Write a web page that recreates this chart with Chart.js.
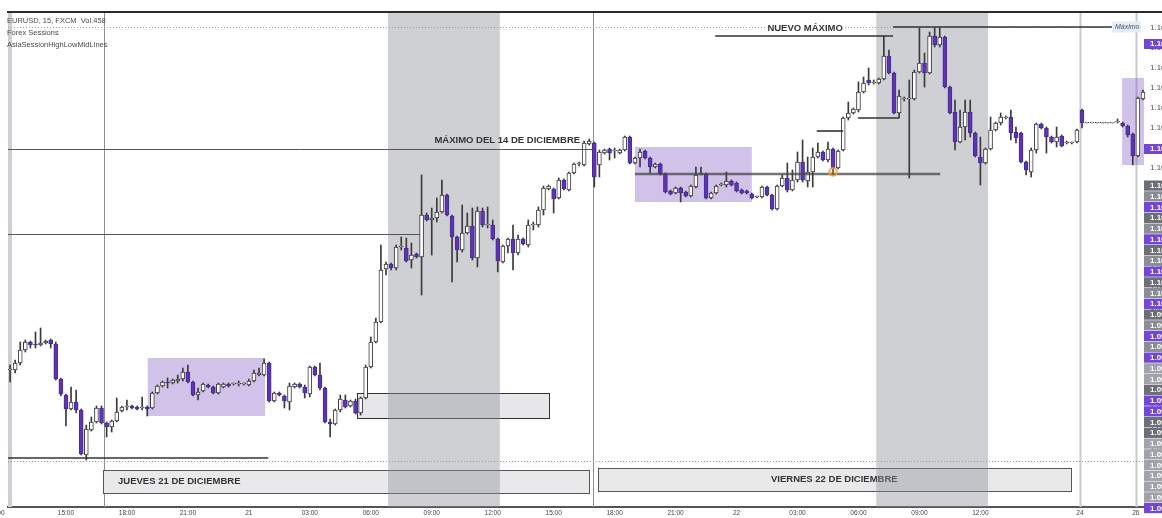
<!DOCTYPE html>
<html>
<head>
<meta charset="utf-8">
<script src="https://cdn.jsdelivr.net/npm/chart.js@4.4.0/dist/chart.umd.min.js"></script>
<style>
  html, body { margin: 0; padding: 0; background: #fff; }
  #wrap { width: 1162px; height: 518px; position: relative; }
</style>
</head>
<body>
<div id="wrap"><canvas id="chart"></canvas></div>
<script>
// EURUSD 15 min (FXCM), velas; la vela n esta en la barra n (1..224)
const opens = [
  1.09716,1.09716,1.09730,1.09756,1.09772,1.09768,1.09766,1.09770,1.09776,1.09768,
  1.09698,1.09666,1.09638,1.09652,1.09636,1.09546,1.09596,1.09612,1.09640,1.09610,
  1.09602,1.09614,1.09634,1.09642,1.09644,1.09642,1.09640,1.09642,1.09640,1.09670,
  1.09684,1.09692,1.09690,1.09694,1.09698,1.09712,1.09692,1.09666,1.09674,1.09686,
  1.09682,1.09670,1.09682,1.09688,1.09688,1.09688,1.09688,1.09686,1.09694,1.09706,
  1.09706,1.09730,1.09654,1.09670,1.09664,1.09652,1.09682,1.09688,1.09682,1.09668,
  1.09722,1.09706,1.09680,1.09612,1.09608,1.09636,1.09656,1.09644,1.09654,1.09630,
  1.09660,1.09722,1.09772,1.09812,1.09918,1.09928,1.09920,1.09962,1.09960,1.09936,
  1.09948,1.09942,1.10026,1.10016,1.10020,1.10032,1.10066,1.10024,1.09982,1.09956,
  1.09990,1.10004,1.09940,1.10034,1.10006,1.10006,1.09978,1.09932,1.09964,1.09978,
  1.09950,1.09978,1.09966,1.10006,1.10006,1.10036,1.10078,1.10078,1.10060,1.10096,
  1.10076,1.10110,1.10128,1.10126,1.10168,1.10170,1.10126,1.10150,1.10158,1.10154,
  1.10150,1.10156,1.10182,1.10130,1.10140,1.10154,1.10140,1.10122,1.10128,1.10108,
  1.10074,1.10070,1.10080,1.10072,1.10064,1.10082,1.10108,1.10108,1.10060,1.10070,
  1.10086,1.10086,1.10094,1.10090,1.10076,1.10074,1.10068,1.10062,1.10062,1.10082,
  1.10066,1.10038,1.10084,1.10100,1.10076,1.10096,1.10132,1.10094,1.10112,1.10142,
  1.10152,1.10136,1.10158,1.10120,1.10156,1.10220,1.10230,1.10236,1.10272,1.10296,
  1.10290,1.10290,1.10298,1.10344,1.10310,1.10230,1.10258,1.10258,1.10258,1.10312,
  1.10330,1.10310,1.10384,1.10366,1.10382,1.10282,1.10232,1.10172,1.10202,1.10232,
  1.10190,1.10142,1.10130,1.10158,1.10196,1.10210,1.10220,1.10222,1.10192,1.10190,
  1.10132,1.10112,1.10156,1.10208,1.10200,1.10182,1.10172,1.10184,1.10170,1.10170,
  1.10172,1.10236,1.10210,1.10210,1.10210,1.10210,1.10210,1.10210,1.10212,1.10210,
  1.10204,1.10188,1.10144,1.10258
];
const highs = [
  1.09726,1.09736,1.09772,1.09776,1.09774,1.09792,1.09800,1.09776,1.09778,1.09772,
  1.09700,1.09668,1.09682,1.09676,1.09638,1.09606,1.09622,1.09644,1.09644,1.09612,
  1.09616,1.09660,1.09644,1.09656,1.09646,1.09644,1.09662,1.09644,1.09672,1.09686,
  1.09694,1.09700,1.09698,1.09706,1.09720,1.09726,1.09694,1.09680,1.09690,1.09688,
  1.09684,1.09690,1.09690,1.09690,1.09690,1.09694,1.09690,1.09698,1.09716,1.09720,
  1.09738,1.09732,1.09672,1.09672,1.09666,1.09690,1.09690,1.09690,1.09686,1.09724,
  1.09724,1.09730,1.09682,1.09618,1.09638,1.09666,1.09666,1.09656,1.09658,1.09662,
  1.09726,1.09782,1.09820,1.09966,1.09932,1.09930,1.09966,1.09982,1.09980,1.09970,
  1.09950,1.10106,1.10030,1.10040,1.10060,1.10096,1.10068,1.10026,1.09984,1.10046,
  1.10030,1.10040,1.10042,1.10040,1.10042,1.10016,1.09980,1.09966,1.09980,1.10006,
  1.09986,1.09980,1.10016,1.10012,1.10042,1.10084,1.10086,1.10080,1.10100,1.10098,
  1.10112,1.10130,1.10132,1.10174,1.10178,1.10172,1.10156,1.10158,1.10160,1.10160,
  1.10158,1.10184,1.10184,1.10142,1.10158,1.10156,1.10142,1.10130,1.10130,1.10110,
  1.10076,1.10082,1.10082,1.10074,1.10086,1.10122,1.10122,1.10110,1.10072,1.10086,
  1.10090,1.10112,1.10096,1.10092,1.10078,1.10076,1.10070,1.10064,1.10084,1.10084,
  1.10068,1.10086,1.10106,1.10130,1.10116,1.10152,1.10176,1.10142,1.10160,1.10170,
  1.10154,1.10172,1.10160,1.10156,1.10222,1.10252,1.10240,1.10292,1.10302,1.10320,
  1.10296,1.10300,1.10384,1.10356,1.10312,1.10276,1.10262,1.10296,1.10316,1.10400,
  1.10350,1.10392,1.10400,1.10400,1.10384,1.10284,1.10256,1.10236,1.10256,1.10256,
  1.10192,1.10182,1.10160,1.10222,1.10212,1.10230,1.10224,1.10236,1.10202,1.10192,
  1.10134,1.10160,1.10210,1.10210,1.10202,1.10184,1.10202,1.10186,1.10174,1.10172,
  1.10198,1.10238,1.10210,1.10210,1.10210,1.10210,1.10210,1.10210,1.10218,1.10212,
  1.10206,1.10190,1.10262,1.10276
];
const lows = [
  1.09692,1.09710,1.09726,1.09752,1.09760,1.09760,1.09764,1.09768,1.09760,1.09696,
  1.09664,1.09604,1.09636,1.09630,1.09546,1.09536,1.09594,1.09610,1.09608,1.09582,
  1.09592,1.09612,1.09632,1.09636,1.09638,1.09636,1.09636,1.09624,1.09638,1.09668,
  1.09682,1.09680,1.09688,1.09690,1.09694,1.09690,1.09664,1.09656,1.09672,1.09680,
  1.09668,1.09668,1.09680,1.09682,1.09686,1.09684,1.09686,1.09684,1.09692,1.09704,
  1.09704,1.09652,1.09652,1.09664,1.09640,1.09636,1.09680,1.09680,1.09660,1.09662,
  1.09704,1.09676,1.09610,1.09582,1.09606,1.09632,1.09640,1.09642,1.09628,1.09626,
  1.09658,1.09720,1.09770,1.09810,1.09906,1.09916,1.09916,1.09956,1.09932,1.09920,
  1.09940,1.09866,1.10014,1.09946,1.10012,1.10030,1.10024,1.09892,1.09932,1.09952,
  1.09988,1.09936,1.09922,1.10002,1.10000,1.09976,1.09912,1.09930,1.09950,1.09916,
  1.09946,1.09966,1.09962,1.09996,1.10002,1.10026,1.10076,1.10030,1.10058,1.10076,
  1.10074,1.10108,1.10124,1.10124,1.10166,1.10082,1.10102,1.10148,1.10136,1.10140,
  1.10148,1.10154,1.10128,1.10128,1.10122,1.10138,1.10110,1.10120,1.10106,1.10070,
  1.10066,1.10068,1.10052,1.10062,1.10062,1.10080,1.10106,1.10058,1.10058,1.10068,
  1.10084,1.10082,1.10084,1.10072,1.10068,1.10068,1.10058,1.10060,1.10060,1.10064,
  1.10036,1.10036,1.10082,1.10072,1.10074,1.10092,1.10092,1.10082,1.10082,1.10140,
  1.10134,1.10132,1.10106,1.10118,1.10154,1.10216,1.10228,1.10232,1.10270,1.10286,
  1.10288,1.10288,1.10296,1.10308,1.10228,1.10220,1.10254,1.10100,1.10256,1.10310,
  1.10282,1.10308,1.10362,1.10362,1.10280,1.10228,1.10156,1.10170,1.10176,1.10182,
  1.10142,1.10086,1.10128,1.10156,1.10194,1.10206,1.10218,1.10176,1.10170,1.10130,
  1.10106,1.10102,1.10150,1.10198,1.10150,1.10170,1.10162,1.10162,1.10168,1.10168,
  1.10170,1.10200,1.10210,1.10210,1.10210,1.10210,1.10210,1.10210,1.10210,1.10202,
  1.10182,1.10126,1.10142,1.10256
];
const closes = [
  1.09718,1.09730,1.09756,1.09772,1.09766,1.09766,1.09770,1.09774,1.09768,1.09698,
  1.09668,1.09638,1.09652,1.09636,1.09548,1.09598,1.09612,1.09640,1.09610,1.09602,
  1.09614,1.09632,1.09642,1.09644,1.09640,1.09638,1.09640,1.09638,1.09670,1.09684,
  1.09692,1.09690,1.09696,1.09698,1.09712,1.09692,1.09666,1.09672,1.09688,1.09682,
  1.09670,1.09688,1.09688,1.09684,1.09688,1.09688,1.09688,1.09694,1.09710,1.09710,
  1.09730,1.09654,1.09670,1.09666,1.09654,1.09684,1.09688,1.09682,1.09670,1.09722,
  1.09706,1.09680,1.09612,1.09608,1.09636,1.09658,1.09642,1.09654,1.09630,1.09660,
  1.09722,1.09772,1.09812,1.09916,1.09928,1.09920,1.09962,1.09962,1.09934,1.09946,
  1.09942,1.10026,1.10016,1.10020,1.10032,1.10066,1.10026,1.09982,1.09956,1.09990,
  1.10004,1.09940,1.10034,1.10006,1.10006,1.09978,1.09934,1.09964,1.09978,1.09950,
  1.09978,1.09968,1.10006,1.10006,1.10036,1.10080,1.10084,1.10058,1.10096,1.10078,
  1.10110,1.10128,1.10128,1.10170,1.10174,1.10102,1.10152,1.10156,1.10150,1.10154,
  1.10156,1.10182,1.10130,1.10140,1.10152,1.10140,1.10122,1.10128,1.10108,1.10072,
  1.10068,1.10080,1.10070,1.10064,1.10084,1.10106,1.10108,1.10060,1.10070,1.10084,
  1.10086,1.10094,1.10086,1.10074,1.10070,1.10070,1.10060,1.10062,1.10082,1.10066,
  1.10038,1.10084,1.10100,1.10076,1.10096,1.10132,1.10096,1.10112,1.10142,1.10152,
  1.10136,1.10158,1.10120,1.10154,1.10220,1.10230,1.10238,1.10272,1.10290,1.10290,
  1.10290,1.10298,1.10344,1.10310,1.10230,1.10264,1.10258,1.10258,1.10312,1.10330,
  1.10310,1.10384,1.10366,1.10382,1.10282,1.10230,1.10172,1.10202,1.10232,1.10190,
  1.10144,1.10130,1.10158,1.10196,1.10210,1.10222,1.10220,1.10190,1.10180,1.10132,
  1.10116,1.10156,1.10208,1.10200,1.10182,1.10172,1.10182,1.10164,1.10170,1.10170,
  1.10196,1.10210,1.10210,1.10210,1.10210,1.10210,1.10210,1.10210,1.10212,1.10204,
  1.10186,1.10144,1.10260,1.10272
];

// eje de tiempo: posicion en barras y texto
const tickPos = [12, 24, 36, 48, 60, 72, 84, 96, 108, 120, 132, 144, 156, 168, 180, 192, 211.6, 222.6];
const tickText = ['15:00','18:00','21:00','21','03:00','06:00','09:00','12:00','15:00',
                  '18:00','21:00','22','03:00','06:00','09:00','12:00','24','26'];
const firstTick = [-1.7, '12:00'];   // queda cortada por el borde izquierdo

// zonas y niveles dibujados encima (barra, precio)
const separators = [19.5, 115.75, 211.6, 222.6];
const killzones = [[75.4, 97.4], [171.5, 193.5]];
const asiaBoxes = [[28.1, 51.2, 1.09624, 1.09740], [124.0, 147.0, 1.10052, 1.10162], [219.9, 224.2, 1.10126, 1.10300]];
const grayBox = [69.3, 107.1, 1.09620, 1.09670];
const dayBoxes = [[19.3, 115.0, 1.09470, 1.09516], [116.7, 209.8, 1.09474, 1.09520]];
const dayNames = ['JUEVES 21 DE DICIEMBRE', 'VIERNES 22 DE DICIEMBRE'];
const levels = [
  [1.10158, 0.59, 115.75], [1.09988, 0.59, 81.7], [1.09540, 0.59, 51.8],
  [1.10384, 139.8, 174.8], [1.10402, 174.8, 217.9], [1.10194, 159.8, 165.0], [1.10220, 167.9, 176.0]
];
const asiaLow = [1.10108, 124.0, 184.1];
const dotted = [1.10402, 1.09534];
const maxLabel = 'MÁXIMO DEL 14 DE DICIEMBRE';
const newMaxLabel = 'NUEVO MÁXIMO';
const touch = [163, 1.10112];

// etiquetas apiladas del eje de precios
const axisTags = [[1.10368, '1.1037'], [1.10158, '1.1016']];
const stackKinds = ['d','m','p','d','m','p','d','m','p','d','m','p','d','m','p','m',
                    'p','l','l','d','p','p','d','d','l','l','l','l','l','l','p'];
const stackTexts = ['1.1011','1.1009','1.1008','1.1006','1.1005','1.1004','1.1003','1.1002',
                    '1.1001','1.1001','1.1000','1.1000','1.0998','1.0996','1.0994','1.0992',
                    '1.0990','1.0987','1.0985','1.0982','1.0979','1.0976','1.0973','1.0970',
                    '1.0967','1.0964','1.0961','1.0958','1.0955','1.0952','1.0949'];

const PURPLE = '#5e35b1';
const FONT = '"Liberation Sans", Arial, sans-serif';
Chart.defaults.font.family = FONT;

const bodies = [];
const wicks = [];
for (let k = 0; k < opens.length; k++) {
  bodies.push({ x: k + 1, y: [opens[k], closes[k]] });
  wicks.push({ x: k + 1, y: [lows[k], highs[k]] });
}
const isUp = k => closes[k] >= opens[k];

const overlay = {
  id: 'overlay',
  beforeDatasetsDraw(chart) {
    const { ctx, chartArea: a, scales: { x, y } } = chart;
    const X = v => x.getPixelForValue(v);
    const Y = v => y.getPixelForValue(v);
    ctx.save();
    // franja izquierda
    ctx.fillStyle = '#cfd0d5';
    ctx.fillRect(a.left, a.top, 4, a.bottom - a.top);
    // separadores de sesion
    separators.forEach((s, n) => {
      ctx.strokeStyle = n < 2 ? '#8d8f96' : '#c9cacf';
      ctx.lineWidth = n < 2 ? 1 : 2;
      ctx.beginPath();
      ctx.moveTo(Math.round(X(s)) + 0.5, a.top);
      ctx.lineTo(Math.round(X(s)) + 0.5, a.bottom);
      ctx.stroke();
    });
    // caja gris
    ctx.fillStyle = '#e7e7ea';
    ctx.strokeStyle = '#333';
    ctx.lineWidth = 1;
    const gx = X(grayBox[0]), gy = Y(grayBox[3]);
    ctx.fillRect(gx, gy, X(grayBox[1]) - gx, Y(grayBox[2]) - gy);
    ctx.strokeRect(Math.round(gx) + 0.5, Math.round(gy) + 0.5, Math.round(X(grayBox[1]) - gx), Math.round(Y(grayBox[2]) - gy));
    // cajas de los dias
    dayBoxes.forEach((b, n) => {
      const bx = X(b[0]), by = Y(b[3]), bw = X(b[1]) - bx, bh = Y(b[2]) - by;
      ctx.fillStyle = '#e9e9ec';
      ctx.fillRect(bx, by, bw, bh);
      ctx.strokeStyle = '#555';
      ctx.strokeRect(Math.round(bx) + 0.5, Math.round(by) + 0.5, Math.round(bw), Math.round(bh));
      ctx.fillStyle = '#333';
      ctx.font = 'bold 9.5px ' + FONT;
      ctx.textBaseline = 'middle';
      if (n === 0) {
        ctx.textAlign = 'left';
        ctx.fillText(dayNames[n], bx + 15, by + bh / 2);
      } else {
        ctx.textAlign = 'center';
        ctx.fillText(dayNames[n], bx + bw / 2, by + bh / 2);
      }
    });
    // killzones
    ctx.fillStyle = 'rgba(140,143,152,0.42)';
    killzones.forEach(k => ctx.fillRect(X(k[0]), a.top, X(k[1]) - X(k[0]), a.bottom - a.top));
    // sesion asiatica
    ctx.fillStyle = 'rgba(126,87,194,0.36)';
    asiaBoxes.forEach(b => ctx.fillRect(X(b[0]), Y(b[3]), X(b[1]) - X(b[0]), Y(b[2]) - Y(b[3])));
    ctx.restore();
  },
  afterDatasetsDraw(chart) {
    const { ctx, chartArea: a, scales: { x, y } } = chart;
    const X = v => x.getPixelForValue(v);
    const Y = v => y.getPixelForValue(v);
    ctx.save();
    // lineas punteadas
    ctx.strokeStyle = '#9a9ca3';
    ctx.lineWidth = 1;
    ctx.setLineDash([1, 2]);
    ctx.beginPath();
    ctx.moveTo(a.left, Math.round(Y(dotted[0])) + 0.5);
    ctx.lineTo(X(217.9), Math.round(Y(dotted[0])) + 0.5);
    ctx.moveTo(a.left, Math.round(Y(dotted[1])) + 0.5);
    ctx.lineTo(a.right, Math.round(Y(dotted[1])) + 0.5);
    ctx.stroke();
    ctx.setLineDash([]);
    // niveles
    levels.forEach((l, n) => {
      ctx.strokeStyle = n < 2 ? '#555' : '#333';
      ctx.lineWidth = n < 2 ? 1 : 1.6;
      const yy = n < 2 ? Math.round(Y(l[0])) + 0.5 : Y(l[0]);
      ctx.beginPath();
      ctx.moveTo(X(l[1]), yy);
      ctx.lineTo(X(l[2]), yy);
      ctx.stroke();
    });
    ctx.strokeStyle = 'rgba(70,70,72,0.75)';
    ctx.lineWidth = 2.5;
    ctx.beginPath();
    ctx.moveTo(X(asiaLow[1]), Y(asiaLow[0]));
    ctx.lineTo(X(asiaLow[2]), Y(asiaLow[0]));
    ctx.stroke();
    // textos
    ctx.font = 'bold 9.5px ' + FONT;
    ctx.fillStyle = '#333';
    ctx.textBaseline = 'middle';
    ctx.textAlign = 'right';
    ctx.fillText(maxLabel, X(113.2), Y(1.10176));
    ctx.textAlign = 'center';
    const w = ctx.measureText(newMaxLabel).width;
    ctx.fillStyle = '#fff';
    ctx.fillRect(X(157.5) - w / 2 - 2, Y(1.10400) - 5, w + 4, 10);
    ctx.fillStyle = '#333';
    ctx.fillText(newMaxLabel, X(157.5), Y(1.10400));
    // toque
    ctx.beginPath();
    ctx.arc(X(touch[0]), Y(touch[1]), 4, 0, Math.PI * 2);
    ctx.fillStyle = 'rgba(245,166,35,0.25)';
    ctx.fill();
    ctx.strokeStyle = '#f2a43a';
    ctx.lineWidth = 1.5;
    ctx.stroke();
    ctx.restore();
  },
  afterDraw(chart) {
    const { ctx, chartArea: a, scales: { x, y } } = chart;
    const X = v => x.getPixelForValue(v);
    const Y = v => y.getPixelForValue(v);
    ctx.save();
    // borde superior
    ctx.strokeStyle = '#2b2b2b';
    ctx.lineWidth = 2;
    ctx.beginPath();
    ctx.moveTo(a.left - 1, a.top);
    ctx.lineTo(chart.width, a.top);
    ctx.stroke();
    // primera etiqueta de hora, cortada
    ctx.font = '6.5px ' + FONT;
    ctx.fillStyle = '#444';
    ctx.textAlign = 'center';
    ctx.textBaseline = 'top';
    ctx.fillText(firstTick[1], X(firstTick[0]), a.bottom + 3);
    // leyenda
    ctx.font = '7.5px ' + FONT;
    ctx.fillStyle = '#4a4a4a';
    ctx.textAlign = 'left';
    ctx.textBaseline = 'middle';
    ctx.fillText('EURUSD, 15, FXCM  Vol.458', a.left - 1, a.top + 9);
    ctx.fillText('Forex Sessions', a.left - 1, a.top + 21);
    ctx.fillText('AsiaSessionHighLowMidLines', a.left - 1, a.top + 33);
    // etiqueta Maximo
    const mx = X(217.9), my = Y(1.10402);
    ctx.fillStyle = '#e3ecf8';
    ctx.fillRect(mx, my - 5.5, a.right - 5 - mx, 11);
    ctx.fillStyle = '#555';
    ctx.font = 'italic 7px ' + FONT;
    ctx.fillText('Máximo', mx + 3, my);
    // etiquetas del eje
    ctx.font = 'bold 8px ' + FONT;
    axisTags.forEach(t => {
      const ty = Y(t[0]);
      ctx.fillStyle = '#7446d4';
      ctx.fillRect(a.right - 2, ty - 5, chart.width - a.right + 2, 10);
      ctx.fillStyle = '#fff';
      ctx.fillText(t[1], a.right + 4, ty);
    });
    const colors = { d: '#6c6f78', m: '#8a8d95', l: '#a0a3aa', p: '#7446d4' };
    const top = Y(1.10095);
    stackKinds.forEach((k, n) => {
      const ty = top + n * 10.75;
      ctx.fillStyle = colors[k];
      ctx.fillRect(a.right - 2, ty, chart.width - a.right + 2, 10.2);
      ctx.fillStyle = '#fff';
      ctx.fillText(stackTexts[n], a.right + 4, ty + 5.3);
    });
    ctx.restore();
  }
};

new Chart(document.getElementById('chart'), {
  type: 'bar',
  data: {
    datasets: [
      {
        data: bodies,
        order: 1,
        grouped: false,
        barThickness: 4,
        borderWidth: 1,
        borderSkipped: false,
        minBarLength: 1,
        backgroundColor: ctx => isUp(ctx.dataIndex) ? '#ffffff' : PURPLE,
        borderColor: ctx => isUp(ctx.dataIndex) ? '#3a3a3a' : '#4a2896'
      },
      {
        data: wicks,
        order: 2,
        grouped: false,
        barThickness: 1,
        borderWidth: 0,
        backgroundColor: '#3a3a3a'
      }
    ]
  },
  options: {
    responsive: true,
    maintainAspectRatio: false,
    animation: false,
    devicePixelRatio: 1,
    layout: { padding: { left: 8, top: 12, right: 0, bottom: 0 } },
    plugins: { legend: { display: false }, tooltip: { enabled: false } },
    scales: {
      x: {
        type: 'linear',
        min: 0.59,
        max: 224.6,
        offset: false,
        grid: { display: false, drawTicks: false },
        border: { display: true, color: '#555', width: 2 },
        afterBuildTicks: s => { s.ticks = tickPos.map(v => ({ value: v })); },
        afterFit: s => { s.height = 11; },
        ticks: {
          autoSkip: false,
          maxRotation: 0,
          padding: 2,
          color: '#444',
          font: { size: 6.5 },
          callback: (v, i) => tickText[i]
        }
      },
      y: {
        position: 'right',
        min: 1.09442,
        max: 1.10432,
        grid: { display: false, drawTicks: false },
        border: { display: false },
        afterFit: s => { s.width = 16; },
        ticks: {
          stepSize: 0.0004,
          includeBounds: false,
          padding: 4,
          color: '#555',
          font: { size: 8 },
          callback: v => v.toFixed(4)
        }
      }
    }
  },
  plugins: [overlay]
});
</script>
</body>
</html>
